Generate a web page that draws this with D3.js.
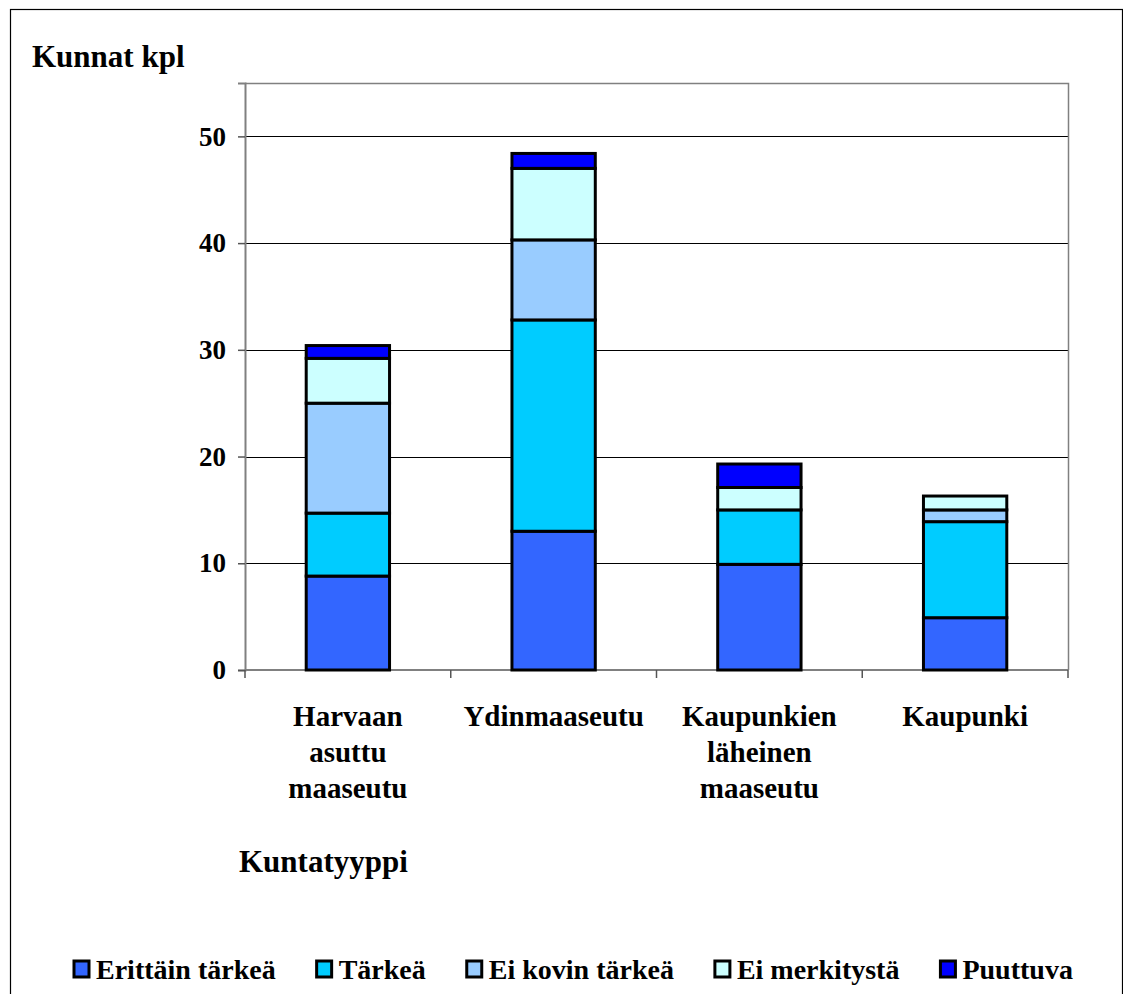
<!DOCTYPE html>
<html>
<head>
<meta charset="utf-8">
<script src="https://cdn.jsdelivr.net/npm/d3@7"></script>
<style>
  html, body { margin: 0; padding: 0; background: #fff; }
  svg { display: block; }
</style>
</head>
<body>
<svg id="chart" width="1123" height="994"></svg>
<script>
// Kunnat (kpl) kuntatyypeittäin, pinottuna vastausluokan mukaan
const categories = ["Harvaan asuttu maaseutu", "Ydinmaaseutu", "Kaupunkien läheinen maaseutu", "Kaupunki"];
const categoryLines = [["Harvaan", "asuttu", "maaseutu"], ["Ydinmaaseutu"], ["Kaupunkien", "läheinen", "maaseutu"], ["Kaupunki"]];

const seriesNames = ["Erittäin tärkeä", "Tärkeä", "Ei kovin tärkeä", "Ei merkitystä", "Puuttuva"];
const seriesColors = ["#3366FF", "#00CCFF", "#99CCFF", "#CCFFFF", "#0000FF"];

const erittainTarkea = [8.8, 13.0, 9.9, 4.9];
const tarkea         = [5.9, 19.8, 5.1, 9.0];
const eiKovinTarkea  = [10.3, 7.5, 0, 1.1];
const eiMerkitysta   = [4.2, 6.7, 2.1, 1.3];
const puuttuva       = [1.2, 1.4, 2.2, 0];

const yTicks = [0, 10, 20, 30, 40, 50];
const yMax = 55;

const FONT = '"Liberation Serif", "Times New Roman", Times, serif';

const seriesValues = [erittainTarkea, tarkea, eiKovinTarkea, eiMerkitysta, puuttuva];
const rows = categories.map((c, i) => {
  const r = { category: c };
  seriesNames.forEach((s, j) => { r[s] = seriesValues[j][i]; });
  return r;
});

const svg = d3.select("#chart");
const plot = { left: 245, top: 83, right: 1068, bottom: 670 };

function label(sel, size) {
  return sel.style("font-family", FONT).style("font-weight", "bold")
    .style("font-size", size + "px").attr("fill", "#000");
}

// outer frame
svg.append("rect")
  .attr("x", 10.5).attr("y", 9.5)
  .attr("width", 1112).attr("height", 1000)
  .attr("fill", "none").attr("stroke", "#000").attr("stroke-width", 1.2);

const x = d3.scaleBand().domain(categories).range([plot.left, plot.right]).padding(0);
const y = d3.scaleLinear().domain([0, yMax]).range([plot.bottom, plot.top]);
const barWidth = x.bandwidth() * 0.405;

// gridlines
svg.append("g")
  .selectAll("line")
  .data(yTicks.filter(t => t > 0))
  .join("line")
  .attr("x1", plot.left).attr("x2", plot.right)
  .attr("y1", d => Math.round(y(d)) + 0.5).attr("y2", d => Math.round(y(d)) + 0.5)
  .attr("stroke", "#000").attr("stroke-width", 1);

// plot area frame (top and right)
svg.append("path")
  .attr("d", `M${plot.left},${plot.top + 0.5}H${plot.right + 0.5}V${plot.bottom}`)
  .attr("fill", "none").attr("stroke", "#808080").attr("stroke-width", 1.5);

// y axis
const yAxis = d3.axisLeft(y).tickValues(yTicks).tickSize(7).tickPadding(12).tickFormat(d3.format("d"));
const gy = svg.append("g").attr("transform", `translate(${plot.left},0)`).call(yAxis);
gy.select(".domain").attr("stroke", "#808080").attr("stroke-width", 2);
gy.selectAll(".tick line").attr("stroke", "#555").attr("stroke-width", 1.5);
label(gy.selectAll(".tick text"), 27);

// x axis: ticks at category boundaries
const gx = svg.append("g");
gx.append("line")
  .attr("x1", plot.left).attr("x2", plot.right)
  .attr("y1", plot.bottom).attr("y2", plot.bottom)
  .attr("stroke", "#808080").attr("stroke-width", 2);
gx.selectAll(".bt")
  .data(categories.concat([null]))
  .join("line")
  .attr("class", "bt")
  .attr("x1", (d, i) => i < categories.length ? x(d) : plot.right)
  .attr("x2", (d, i) => i < categories.length ? x(d) : plot.right)
  .attr("y1", plot.bottom).attr("y2", plot.bottom + 8)
  .attr("stroke", "#555").attr("stroke-width", 1.5);

// category labels
categories.forEach((c, i) => {
  const cx = x(c) + x.bandwidth() / 2;
  const t = label(gx.append("text"), 29)
    .attr("x", cx)
    .attr("y", 726)
    .attr("text-anchor", "middle");
  categoryLines[i].forEach((line, k) => {
    t.append("tspan").attr("x", cx).attr("dy", k === 0 ? 0 : 36).text(line);
  });
});

// stacked bars
const stacked = d3.stack().keys(seriesNames)(rows);
svg.append("g")
  .selectAll("g")
  .data(stacked)
  .join("g")
  .attr("fill", (d, i) => seriesColors[i])
  .selectAll("rect")
  .data(d => d.filter(s => s[1] - s[0] > 0))
  .join("rect")
  .attr("x", d => x(d.data.category) + (x.bandwidth() - barWidth) / 2)
  .attr("y", d => y(d[1]))
  .attr("width", barWidth)
  .attr("height", d => y(d[0]) - y(d[1]))
  .attr("stroke", "#000")
  .attr("stroke-width", 3);

// axis titles
label(svg.append("text"), 31).attr("x", 32).attr("y", 67).text("Kunnat kpl");
label(svg.append("text"), 31).attr("x", 239).attr("y", 872).text("Kuntatyyppi");

// legend
const legend = svg.append("g");
let lx = 74;
seriesNames.forEach((name, i) => {
  const item = legend.append("g").attr("transform", `translate(${lx},0)`);
  item.append("rect")
    .attr("x", 0).attr("y", 961)
    .attr("width", 15).attr("height", 16)
    .attr("fill", seriesColors[i]).attr("stroke", "#000").attr("stroke-width", 3);
  const t = label(item.append("text"), 28).attr("x", 22).attr("y", 979).text(name);
  lx += 22 + t.node().getComputedTextLength() + 41;
});
</script>
</body>
</html>
